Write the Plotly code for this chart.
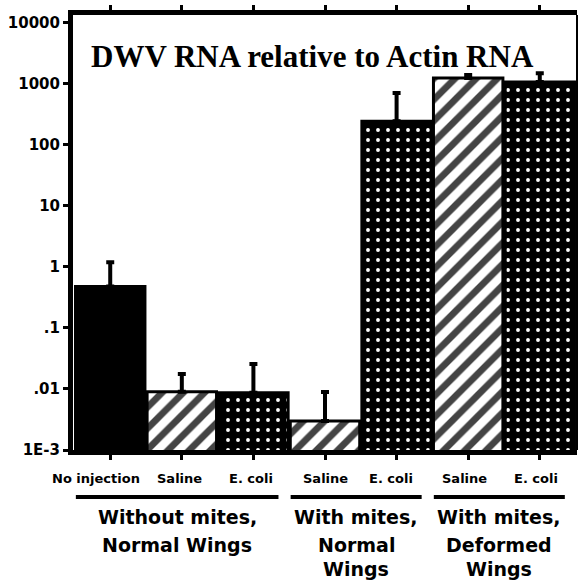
import plotly.graph_objects as go

categories = ["No injection", "Saline", "E. coli", "Saline ", "E. coli ", "Saline  ", "E. coli  "]
values = [0.48, 0.009, 0.0087, 0.0030, 245, 1250, 1080]
err_plus = [0.72, 0.0086, 0.017, 0.0059, 465, 150, 420]
pattern_shapes = ["", "/", ".", "/", ".", "/", "."]
bg_colors = ["black", "white", "black", "white", "black", "white", "black"]
fg_colors = ["black", "black", "white", "black", "white", "black", "white"]
pattern_sizes = [8, 15, 10, 15, 10, 15, 10]
pattern_solid = [0.2, 0.45, 0.12, 0.45, 0.12, 0.45, 0.12]

y_tickvals = [1e-3, 1e-2, 1e-1, 1, 10, 100, 1000, 10000]
y_ticktext = ["1E-3", ".01", ".1", "1", "10", "100", "1000", "10000"]

group_lines = [["Without mites,", "Normal Wings"],
               ["With mites,", "Normal", "Wings"],
               ["With mites,", "Deformed", "Wings"]]
group_span = [(0, 2), (3, 4), (5, 6)]
title_text = "DWV RNA relative to Actin RNA"

fig = go.Figure()
fig.add_trace(go.Bar(
    x=categories, y=values,
    marker=dict(
        color=bg_colors,
        line=dict(color="black", width=3),
        pattern=dict(shape=pattern_shapes, fgcolor=fg_colors,
                     size=pattern_sizes, solidity=pattern_solid, fgopacity=1,
                     fillmode="overlay"),
    ),
    error_y=dict(type="data", symmetric=False, array=err_plus,
                 arrayminus=[0] * len(values), color="black", thickness=4, width=4),
))

sans_b = "DejaVu Sans, sans-serif"
T, B, H = 15, 133, 583
PH = H - T - B  # plot height in px


def py(pix):
    return (H - B - pix) / PH


fig.update_layout(
    width=581, height=583,
    margin=dict(l=73, r=4, t=T, b=B),
    paper_bgcolor="white", plot_bgcolor="white",
    showlegend=False, bargap=0.03,
    font=dict(family=sans_b, color="black"),
    xaxis=dict(
        type="category", showline=True, linecolor="black", linewidth=5, mirror="ticks",
        ticks="outside", ticklen=5, tickwidth=3, tickcolor="black",
        tickvals=categories, ticktext=[""] * len(categories),
        showgrid=False, zeroline=False,
        range=[-0.52, 6.52],
    ),
    yaxis=dict(
        type="log", range=[-3, 4.13], showline=True, linecolor="black", linewidth=5,
        ticks="outside", ticklen=5, tickwidth=3, tickcolor="black",
        tickvals=y_tickvals, ticktext=["<b>%s</b>" % t for t in y_ticktext],
        tickfont=dict(family=sans_b, size=15, color="black"),
        showgrid=False, zeroline=False,
    ),
)

# right border thinner
fig.add_shape(type="line", xref="paper", yref="paper", x0=1, x1=1, y0=0, y1=1,
              line=dict(color="black", width=2))

fig.add_annotation(text="<b>%s</b>" % title_text, xref="paper", yref="paper",
                   x=0.476, y=py(56), xanchor="center", yanchor="middle", showarrow=False,
                   font=dict(family="Liberation Serif, Times New Roman, serif", size=31, color="black"))

# category labels under the axis
label_shift = [-14, -2, -2, 0, -6, -4, -4]
for cat, dx in zip(categories, label_shift):
    fig.add_annotation(text="<b>%s</b>" % cat.strip(), xref="x", yref="paper",
                       x=cat, y=py(478), xanchor="center", yanchor="middle", xshift=dx,
                       showarrow=False, font=dict(family=sans_b, size=13, color="black"))

line_y = [517, 545, 569]
for lines, (i0, i1) in zip(group_lines, group_span):
    x0, x1 = i0 - 0.48, i1 + 0.35
    fig.add_shape(type="line", xref="x", yref="paper", x0=x0, x1=x1,
                  y0=py(497), y1=py(497), line=dict(color="black", width=4))
    for k, txt in enumerate(lines):
        fig.add_annotation(text="<b>%s</b>" % txt, xref="x", yref="paper",
                           x=(x0 + x1) / 2, y=py(line_y[k]), xanchor="center", yanchor="middle",
                           showarrow=False,
                           font=dict(family=sans_b, size=19, color="black"))

fig.write_html("out.html")
